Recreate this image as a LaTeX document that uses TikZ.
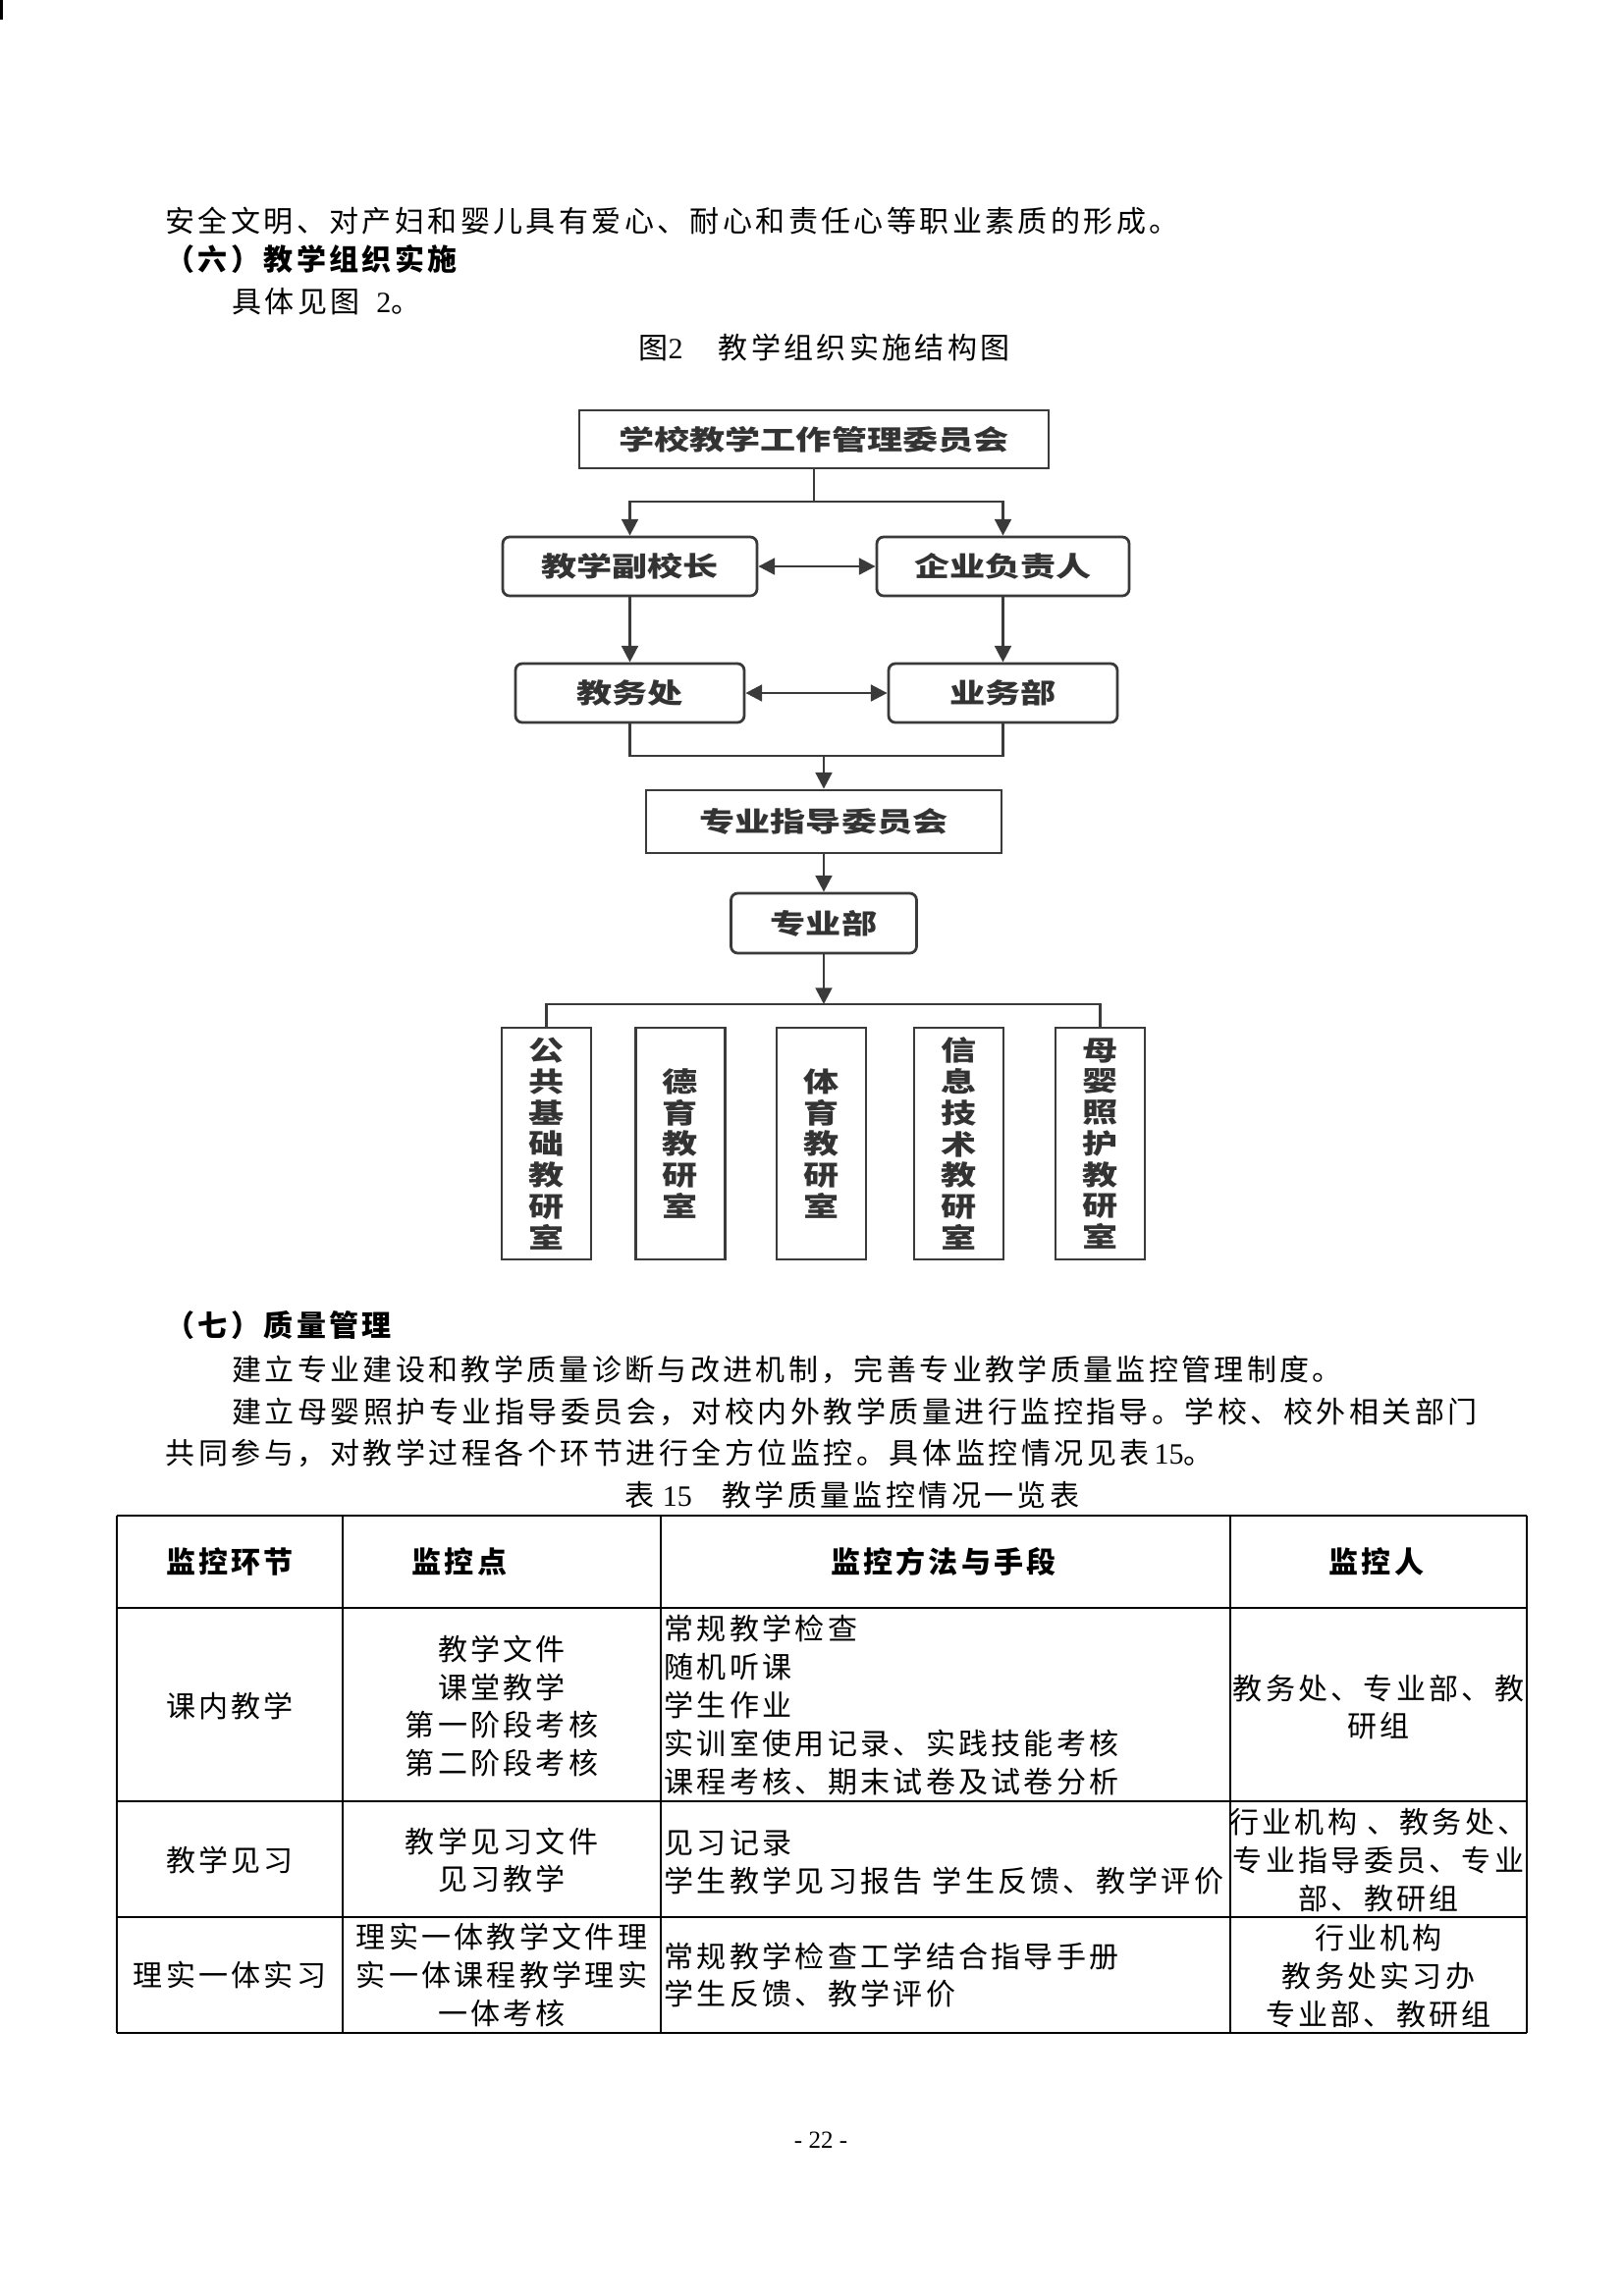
\documentclass[tikz,border=0pt]{standalone}
\usepackage{fontspec}
\usetikzlibrary{arrows.meta}
\setmainfont{Liberation Serif}
\newfontfamily\cjk{Noto Sans CJK SC}
\newfontfamily\flow{Noto Sans CJK SC}[FakeStretch=1.3]
\newfontfamily\lat{Liberation Serif}
\newdimen\px \px=0.3599pt
\definecolor{ln}{HTML}{3A3A3A}
\definecolor{tx}{HTML}{333333}
\newcommand{\bodyfont}{\cjk\fontsize{10.8}{13}\selectfont\addfontfeature{LetterSpace=11.2}}
\newcommand{\cellfont}{\cjk\fontsize{10.8}{13.95}\selectfont\addfontfeature{LetterSpace=11.0}}
\tikzset{
  body/.style={anchor=west, inner sep=0pt, font=\bodyfont},
  bodyb/.style={anchor=west, inner sep=0pt, font=\bodyfont\bfseries},
  capt/.style={anchor=west, inner sep=0pt, font=\bodyfont},
  fbox/.style={draw=ln, line width=1pt, fill=white, inner sep=0pt, text=tx,
    font=\flow\bfseries\fontsize{10}{12}\selectfont},
  fround/.style={fbox, rounded corners=2.5pt},
  vbox/.style={fbox, minimum width=91\px, minimum height=236\px, align=center,
    font=\flow\bfseries\fontsize{10}{11.44}\selectfont},
  conn/.style={draw=ln, line width=1pt},
  arr/.style={conn, -{Triangle[length=6pt,width=6pt]}},
  darr/.style={conn, {Triangle[length=6pt,width=6pt]}-{Triangle[length=6pt,width=6pt]}},
  tabh/.style={draw=black, line width=1pt},
  tabv/.style={draw=black, line width=0.6pt},
  tcell/.style={inner sep=0pt, align=center, font=\cellfont},
  tleft/.style={inner sep=0pt, align=left, anchor=west, font=\cellfont},
  thead/.style={inner sep=0pt, align=center, font=\cellfont\bfseries},
}
\begin{document}
\begin{tikzpicture}[x=0.3599pt, y=-0.3599pt]
\fill[white] (0,0) rectangle (1654,2339);
\useasboundingbox (0,0) rectangle (1654,2339);
\fill[black] (0,0) rectangle (2.5,20);

% body text
\node[body, font=\bodyfont\addfontfeature{LetterSpace=11.3}] (l1) at (168,225) {安全文明、对产妇和婴儿具有爱心、耐心和责任心等职业素质的形成。};
\node[bodyb] (h6) at (168,264) {（六）教学组织实施};
\node[body] (l2) at (236,307) {具体见图\hspace{6pt}{\lat 2}。};
\node[capt] (cap2) at (650,354) {图{\lat 2}\hspace{13pt}教学组织实施结构图};

% flowchart
\node[fbox, minimum width=478\px, minimum height=59\px] (top) at (829,447.5) {学校教学工作管理委员会};
\node[fround, minimum width=259\px, minimum height=60\px] (fu) at (641.5,577) {教学副校长};
\node[fround, minimum width=257\px, minimum height=60\px] (qi) at (1021.5,577) {企业负责人};
\node[fround, minimum width=233\px, minimum height=60\px] (jw) at (641.5,706) {教务处};
\node[fround, minimum width=233\px, minimum height=60\px] (yw) at (1021.5,706) {业务部};
\node[fbox, minimum width=362\px, minimum height=64\px] (zd) at (839,837) {专业指导委员会};
\node[fround, minimum width=189\px, minimum height=61\px] (zy) at (839,940.5) {专业部};
\node[vbox] (b1) at (556.5,1165) {公\\共\\基\\础\\教\\研\\室};
\node[vbox] (b2) at (693,1165) {德\\育\\教\\研\\室};
\node[vbox] (b3) at (836.5,1165) {体\\育\\教\\研\\室};
\node[vbox] (b4) at (976.5,1165) {信\\息\\技\\术\\教\\研\\室};
\node[vbox] (b5) at (1120.5,1165) {母\\婴\\照\\护\\教\\研\\室};

\coordinate (s1) at (829,511);
\coordinate (s2) at (839,770);
\coordinate (s3) at (839,1023);
\draw[conn] (top.south) -- (s1);
\draw[arr] (s1) -| (fu.north);
\draw[arr] (s1) -| (qi.north);
\draw[darr] (fu.east) -- (qi.west);
\draw[arr] (fu.south) -- (jw.north);
\draw[arr] (qi.south) -- (yw.north);
\draw[darr] (jw.east) -- (yw.west);
\draw[conn] (jw.south) |- (s2) -| (yw.south);
\draw[arr] (s2) -- (zd.north);
\draw[arr] (zd.south) -- (zy.north);
\draw[arr] (zy.south) -- (s3);
\draw[conn] (b1.north) |- (s3) -| (b5.north);

% section 7
\node[bodyb] (h7) at (168,1350) {（七）质量管理};
\node[body, font=\bodyfont\addfontfeature{LetterSpace=11.1}] (l3) at (236,1395) {建立专业建设和教学质量诊断与改进机制，完善专业教学质量监控管理制度。};
\node[body, font=\bodyfont\addfontfeature{LetterSpace=11.5}] (l4) at (236,1438) {建立母婴照护专业指导委员会，对校内外教学质量进行监控指导。学校、校外相关部门};
\node[body, font=\bodyfont\addfontfeature{LetterSpace=11.7}] (l5) at (168,1480) {共同参与，对教学过程各个环节进行全方位监控。具体监控情况见表\,{\lat 15}。};
\node[capt] (cap15) at (636,1523) {表\hspace{3pt}{\lat 15}\hspace{11pt}教学质量监控情况一览表};

% table
\foreach \yy in {1544,1638,1835,1953,2071} \draw[tabh] (119,\yy) -- (1555,\yy);
\foreach \xx in {119,349,673,1253,1555} \draw[tabv] (\xx,1544) -- (\xx,2071);

\node[thead] (th1) at (234,1591) {监控环节};
\node[thead] (th2) at (468,1591) {监控点};
\node[thead] (th3) at (961,1591) {监控方法与手段};
\node[thead] (th4) at (1402,1591) {监控人};

\node[tcell] (r1c1) at (234,1738) {课内教学};
\node[tcell] (r1c2) at (511,1738) {教学文件\\课堂教学\\第一阶段考核\\第二阶段考核};
\node[tleft] (r1c3) at (676,1737) {常规教学检查\\随机听课\\学生作业\\实训室使用记录、实践技能考核\\课程考核、期末试卷及试卷分析};
\node[tcell] (r1c4) at (1404,1739) {教务处、专业部、教\\研组};

\node[tcell] (r2c1) at (234,1895) {教学见习};
\node[tcell] (r2c2) at (511,1895) {教学见习文件\\见习教学};
\node[tleft] (r2c3) at (676,1897) {见习记录\\学生教学见习报告 学生反馈、教学评价};
\node[tcell] (r2c4) at (1404,1895) {行业机构 、教务处、\\专业指导委员、专业\\部、教研组};

\node[tcell] (r3c1) at (234,2012) {理实一体实习};
\node[tcell] (r3c2) at (511,2012) {理实一体教学文件理\\实一体课程教学理实\\一体考核};
\node[tleft] (r3c3) at (676,2012) {常规教学检查工学结合指导手册\\学生反馈、教学评价};
\node[tcell] (r3c4) at (1404,2013) {行业机构\\教务处实习办\\专业部、教研组};

\node[inner sep=0pt, font=\lat\fontsize{9}{10}\selectfont] (pg) at (836,2180) {- 22 -};
\end{tikzpicture}
\end{document}
